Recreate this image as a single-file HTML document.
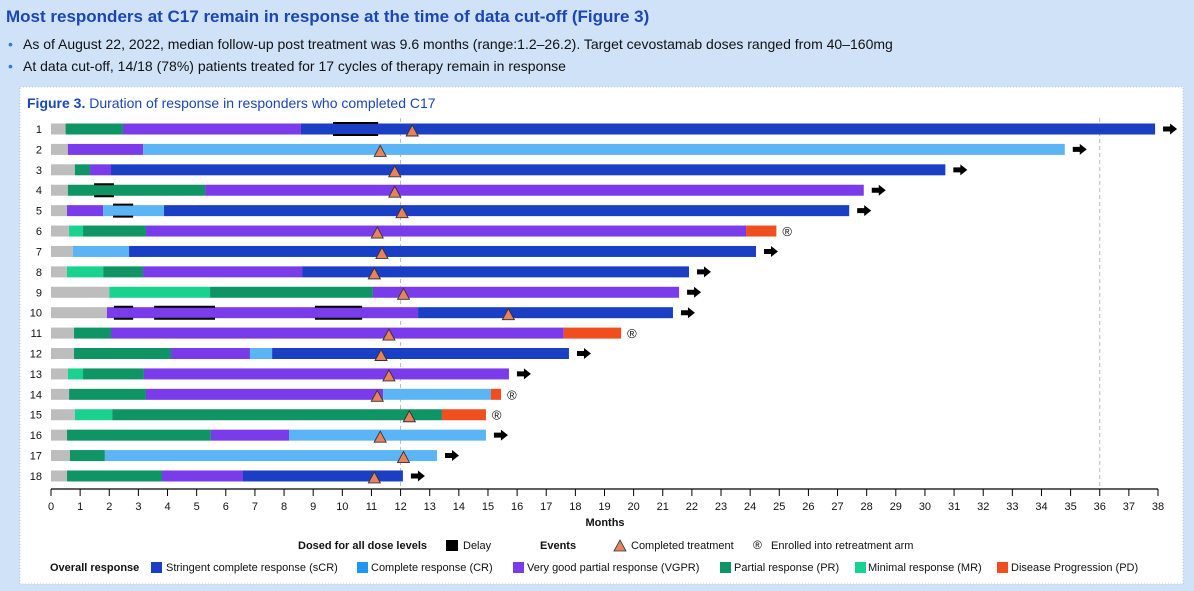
<!DOCTYPE html>
<html><head><meta charset="utf-8">
<style>
html,body{margin:0;padding:0;background:#cfe2f8;width:1194px;height:591px;overflow:hidden;font-family:"Liberation Sans",Arial,sans-serif;}
</style></head>
<body>
<svg id="chart" width="1194" height="591" xmlns="http://www.w3.org/2000/svg" font-family="Liberation Sans, Arial, sans-serif">
<text x="6" y="22" font-size="17" font-weight="bold" fill="#1a46b8">Most responders at C17 remain in response at the time of data cut-off (Figure 3)</text>
<text x="8" y="49" font-size="14" fill="#2a7de1">•</text>
<text x="23" y="49" font-size="14" fill="#111">As of August 22, 2022, median follow-up post treatment was 9.6 months (range:1.2–26.2). Target cevostamab doses ranged from 40–160mg</text>
<text x="8" y="71" font-size="14" fill="#2a7de1">•</text>
<text x="23" y="71" font-size="14" fill="#111">At data cut-off, 14/18 (78%) patients treated for 17 cycles of therapy remain in response</text>
<rect x="20" y="87" width="1163" height="497" fill="#fff" stroke="#b8c8dc" stroke-dasharray="1,2"/>
<text x="27" y="108" font-size="14" fill="#1a46b8"><tspan font-weight="bold">Figure 3.</tspan> Duration of response in responders who completed C17</text>
<g id="plot"></g>
<g font-size="11" fill="#111">
<text x="298" y="549" font-weight="bold">Dosed for all dose levels</text>
<rect x="446" y="540" width="12" height="11" fill="#000"/>
<text x="463" y="549">Delay</text>
<text x="540" y="549" font-weight="bold">Events</text>
<polygon points="614,551 620,540 626,551" fill="#e8825e" stroke="#333" stroke-width="0.8"/>
<text x="631" y="549">Completed treatment</text>
<text x="753" y="549" font-size="12">®</text>
<text x="771" y="549">Enrolled into retreatment arm</text>
<text x="50" y="571" font-weight="bold">Overall response</text>
<rect x="151" y="562" width="11" height="11" fill="#1a3fc4"/>
<text x="166" y="571">Stringent complete response (sCR)</text>
<rect x="357" y="562" width="11" height="11" fill="#2196f3"/>
<text x="371" y="571">Complete response (CR)</text>
<rect x="513" y="562" width="11" height="11" fill="#7a3bea"/>
<text x="527" y="571">Very good partial response (VGPR)</text>
<rect x="720" y="562" width="11" height="11" fill="#0f9466"/>
<text x="734" y="571">Partial response (PR)</text>
<rect x="855" y="562" width="11" height="11" fill="#19d28f"/>
<text x="868" y="571">Minimal response (MR)</text>
<rect x="997" y="562" width="11" height="11" fill="#f04e1e"/>
<text x="1011" y="571">Disease Progression (PD)</text>
</g>
</svg>
<script>
const patients = ["1","2","3","4","5","6","7","8","9","10","11","12","13","14","15","16","17","18"];
const segEnds = [
 [0.5,2.47,8.58,37.9],
 [0.58,3.16,34.8],
 [0.82,1.34,2.06,30.7],
 [0.58,5.29,27.9],
 [0.55,1.79,3.88,27.4],
 [0.62,1.1,3.26,23.86,24.9],
 [0.75,2.68,24.2],
 [0.55,1.79,3.16,8.62,21.9],
 [2.0,5.46,11.05,21.56],
 [1.92,12.6,21.35],
 [0.79,2.06,17.6,19.57],
 [0.79,4.12,6.83,7.59,17.78],
 [0.58,1.1,3.19,15.72],
 [0.62,3.26,11.4,15.1,15.45],
 [0.82,2.1,13.42,14.93],
 [0.55,5.49,8.17,14.93],
 [0.65,1.85,13.25],
 [0.55,3.81,6.59,12.08]
];
const segTypes = [
 ["NA","PR","VGPR","sCR"],
 ["NA","VGPR","CR"],
 ["NA","PR","VGPR","sCR"],
 ["NA","PR","VGPR"],
 ["NA","VGPR","CR","sCR"],
 ["NA","MR","PR","VGPR","PD"],
 ["NA","CR","sCR"],
 ["NA","MR","PR","VGPR","sCR"],
 ["NA","MR","PR","VGPR"],
 ["NA","VGPR","sCR"],
 ["NA","PR","VGPR","PD"],
 ["NA","PR","VGPR","CR","sCR"],
 ["NA","MR","PR","VGPR"],
 ["NA","PR","VGPR","CR","PD"],
 ["NA","MR","PR","PD"],
 ["NA","PR","VGPR","CR"],
 ["NA","PR","CR"],
 ["NA","PR","VGPR","sCR"]
];
const completedAt = [12.4,11.3,11.8,11.8,12.05,11.2,11.36,11.1,12.1,15.7,11.6,11.33,11.6,11.2,12.3,11.3,12.1,11.1];
const ongoing = [1,1,1,1,1,0,1,1,1,1,0,1,1,0,0,1,1,1];
const retreat = [0,0,0,0,0,1,0,0,0,0,1,0,0,1,1,0,0,0];
const delays = [[0,9.68,11.23],[3,1.48,2.16],[4,2.13,2.82],[9,2.16,2.82],[9,3.54,5.63],[9,9.06,10.68]];
const xTicks = Array.from({length:39},(_,i)=>i);
const refLines = [12,36];

const colors = {NA:"#bdbdbd",sCR:"#1a3fc4",CR:"#5bb5f5",VGPR:"#7a3bea",PR:"#0f9466",MR:"#19d28f",PD:"#f04e1e"};
const NS="http://www.w3.org/2000/svg";
const g=document.getElementById('plot');
const x0=51,x1=1158,xmax=38;
const X=m=>x0+(x1-x0)*m/xmax;
const Y=i=>129+i*20.41;
const bh=11;
function mk(t,a){const e=document.createElementNS(NS,t);for(const k in a)e.setAttribute(k,a[k]);g.appendChild(e);return e;}

refLines.forEach(r=>{
 const l=mk('line',{x1:X(r),x2:X(r),y1:118,y2:488,stroke:'#bbb','stroke-dasharray':'4,3'});
 
 
});

patients.forEach((p,i)=>{
 const y=Y(i);
 const t=mk('text',{x:42,y:y+4,'font-size':11,'text-anchor':'end',fill:'#111'});t.textContent=p;
 
 
 let s=0;
 segEnds[i].forEach((e,j)=>{
  const r=mk('rect',{x:X(s),y:y-bh/2,width:Math.max(0,X(e)-X(s)),height:bh,fill:colors[segTypes[i][j]]});
  
  
  s=e;
 });
 const end=X(s);
 if(ongoing[i]){
  const a=mk('polygon',{points:`${end+8},${y-2.5} ${end+15},${y-2.5} ${end+15},${y-5.5} ${end+22},${y} ${end+15},${y+5.5} ${end+15},${y+2.5} ${end+8},${y+2.5}`,fill:'#000'});
  
  
 }
 if(retreat[i]){
  const r=mk('text',{x:end+6,y:y+5,'font-size':13,fill:'#111'});r.textContent='®';
  
  
 }
});
delays.forEach(d=>{
 const y=Y(d[0]);
 const top=mk('line',{x1:X(d[1]),x2:X(d[2]),y1:y-bh/2-0.5,y2:y-bh/2-0.5,stroke:'#000','stroke-width':2});
 
 
 const bot=mk('line',{x1:X(d[1]),x2:X(d[2]),y1:y+bh/2+0.5,y2:y+bh/2+0.5,stroke:'#000','stroke-width':2});
 
 
});
completedAt.forEach((m,i)=>{
 const cx=X(m),y=Y(i);
 const t=mk('polygon',{points:`${cx-6},${y+7} ${cx},${y-4} ${cx+6},${y+7}`,fill:'#e8825e',stroke:'#333','stroke-width':0.9});
 
 
});
const ax=mk('line',{x1:x0,x2:x1,y1:489,y2:489,stroke:'#000','stroke-width':1.2});


xTicks.forEach(v=>{
 const tk=mk('line',{x1:X(v),x2:X(v),y1:489,y2:496,stroke:'#000'});
 
 
 const tl=mk('text',{x:X(v),y:510,'font-size':11,'text-anchor':'middle',fill:'#111'});tl.textContent=v;
 
 
});
const xt=mk('text',{x:605,y:526,'font-size':11,'font-weight':'bold','text-anchor':'middle',fill:'#111'});xt.textContent='Months';


</script>
</body></html>
